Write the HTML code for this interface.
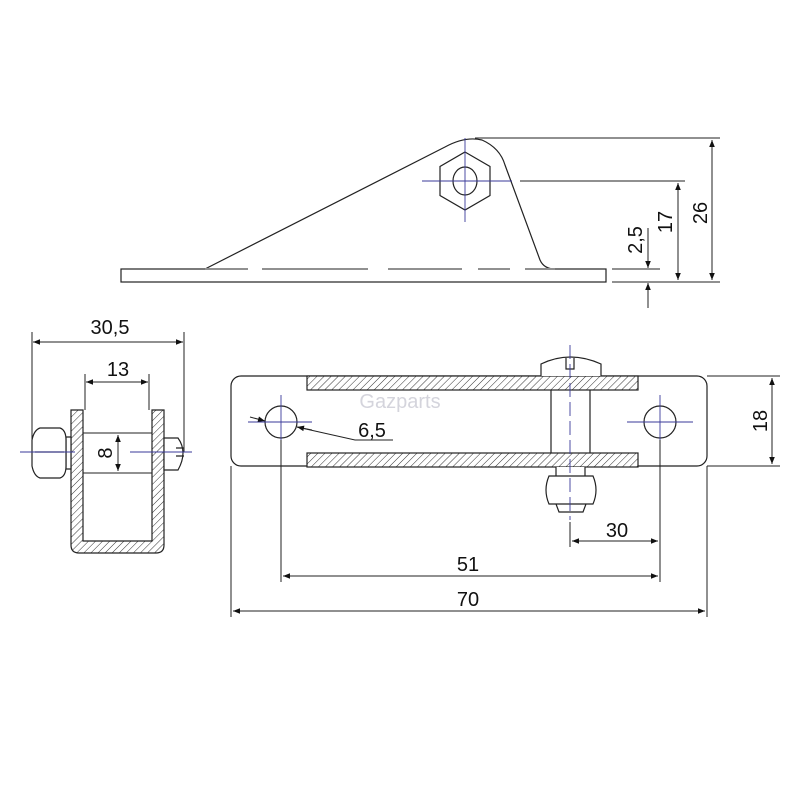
<!DOCTYPE html>
<html><head><meta charset="utf-8"><style>
html,body{margin:0;padding:0;background:#fff;width:800px;height:800px;overflow:hidden}
text{font-family:"Liberation Sans","DejaVu Sans",sans-serif;fill:#111}
</style></head><body>
<svg width="800" height="800" viewBox="0 0 800 800" xmlns="http://www.w3.org/2000/svg">
<defs>
<pattern id="h" width="5" height="5" patternUnits="userSpaceOnUse" patternTransform="rotate(45)">
<rect width="5" height="5" fill="#fff"/><line x1="0" y1="0" x2="0" y2="5" stroke="#333" stroke-width="1"/></pattern>
<marker id="a" viewBox="0 0 10 10" refX="10" refY="5" markerWidth="9" markerHeight="7" orient="auto-start-reverse" markerUnits="userSpaceOnUse"><path d="M0,1 L10,5 L0,9 z" fill="#111"/></marker>
</defs>
<g fill="none" stroke="#222" stroke-width="1.2">
<!-- TOP VIEW -->
<rect x="121" y="269" width="485" height="13" fill="#fff"/>
<path d="M205,269 L445,147 Q465,136 482,140 Q500,148 505,165 L540,260 Q544,269 555,269" fill="#fff"/>
<line x1="205" y1="269" x2="555" y2="269" stroke="#fff" stroke-width="2"/>
<path d="M205,269 H248 M262,269 H368 M388,269 H462 M478,269 H510 M525,269 H555" stroke-width="1.1"/>
<polygon points="465,152 490,166.5 490,195.5 465,210 440,195.5 440,166.5"/>
<ellipse cx="465" cy="181" rx="12" ry="14"/>
<g stroke="#3a3a9a" stroke-width="0.9"><line x1="422" y1="181" x2="512" y2="181"/><line x1="465" y1="138" x2="465" y2="222"/></g>
<g stroke-width="1"><line x1="475" y1="138" x2="720" y2="138"/><line x1="520" y1="181" x2="685" y2="181"/><line x1="612" y1="282" x2="720" y2="282"/><line x1="612" y1="269" x2="660" y2="269"/>
<line x1="712" y1="140" x2="712" y2="280" marker-start="url(#a)" marker-end="url(#a)"/>
<line x1="678" y1="183" x2="678" y2="280" marker-start="url(#a)" marker-end="url(#a)"/>
<line x1="648" y1="228" x2="648" y2="268" marker-end="url(#a)"/>
<line x1="648" y1="308" x2="648" y2="283" marker-end="url(#a)"/></g>
<!-- SIDE VIEW -->
<g stroke-width="1">
<line x1="33" y1="342" x2="183" y2="342" marker-start="url(#a)" marker-end="url(#a)"/>
<line x1="32" y1="332" x2="32" y2="452"/><line x1="184" y1="332" x2="184" y2="452"/>
<line x1="86" y1="382" x2="148" y2="382" marker-start="url(#a)" marker-end="url(#a)"/>
<line x1="85" y1="374" x2="85" y2="410"/><line x1="149" y1="374" x2="149" y2="410"/>
<line x1="83" y1="433" x2="152" y2="433"/><line x1="83" y1="473" x2="152" y2="473"/>
<line x1="118" y1="435" x2="118" y2="471" marker-start="url(#a)" marker-end="url(#a)"/></g>
<path d="M71,410 H83 V541 H152 V410 H164 V545 Q164,553 156,553 H79 Q71,553 71,545 Z" fill="url(#h)"/>
<path d="M66,437 H71 V469 H66 Z" fill="#fff"/>
<path d="M40,428 H60 Q66,430 66,440 V466 Q66,476 60,478 H40 Q34,476 32,466 V440 Q34,430 40,428 Z M35,452 H64" fill="#fff"/>
<path d="M164,438 H178 Q188,452 178,470 H164 Z M176,448 H184 M176,456 H184" fill="#fff"/>
<g stroke="#3a3a9a" stroke-width="0.9"><line x1="20" y1="452" x2="75" y2="452"/><line x1="130" y1="452" x2="192" y2="452"/></g>
<!-- FRONT VIEW -->
<rect x="231" y="376" width="476" height="90" rx="10" fill="#fff"/>
<rect x="307" y="376" width="331" height="14" fill="url(#h)"/>
<rect x="307" y="453" width="331" height="14" fill="url(#h)"/>
<path d="M551,390 V453 M590,390 V453"/>
<path d="M541,376 V364 Q570,350 601,364 V376" fill="#fff"/>
<path d="M566,358 V369 H574 V358"/>
<path d="M556,467 V476 H585 V467 M549,476 H593 Q599,490 593,504 H549 Q543,490 549,476 Z M556,504 L559,512 H583 L586,504" fill="#fff"/>
<circle cx="281" cy="422" r="16"/><circle cx="660" cy="422" r="16"/>
<g stroke="#3a3a9a" stroke-width="0.9"><line x1="248" y1="422" x2="312" y2="422"/><line x1="281" y1="395" x2="281" y2="440"/><line x1="627" y1="422" x2="693" y2="422"/><line x1="660" y1="395" x2="660" y2="440"/><line x1="570" y1="345" x2="570" y2="520" stroke-dasharray="14,5"/></g>
<g stroke-width="1">
<line x1="250" y1="417" x2="265" y2="421" marker-end="url(#a)"/>
<path d="M297,427 L355,440 H393"/><line x1="312" y1="430" x2="297" y2="427" marker-end="url(#a)"/>
<line x1="707" y1="376" x2="780" y2="376"/><line x1="707" y1="466" x2="780" y2="466"/>
<line x1="772" y1="378" x2="772" y2="464" marker-start="url(#a)" marker-end="url(#a)"/>
<line x1="231" y1="466" x2="231" y2="617"/><line x1="707" y1="466" x2="707" y2="617"/>
<line x1="281" y1="440" x2="281" y2="582"/><line x1="660" y1="440" x2="660" y2="582"/>
<line x1="570" y1="522" x2="570" y2="547"/>
<line x1="572" y1="541" x2="658" y2="541" marker-start="url(#a)" marker-end="url(#a)"/>
<line x1="283" y1="576" x2="658" y2="576" marker-start="url(#a)" marker-end="url(#a)"/>
<line x1="233" y1="611" x2="705" y2="611" marker-start="url(#a)" marker-end="url(#a)"/></g>
</g>
<g font-size="20">
<text x="642" y="240" transform="rotate(-90 642 240)" text-anchor="middle">2,5</text>
<text x="672" y="222" transform="rotate(-90 672 222)" text-anchor="middle">17</text>
<text x="707" y="213" transform="rotate(-90 707 213)" text-anchor="middle">26</text>
<text x="110" y="334" text-anchor="middle">30,5</text>
<text x="118" y="376" text-anchor="middle">13</text>
<text x="112" y="453" transform="rotate(-90 112 453)" text-anchor="middle">8</text>
<text x="372" y="437" text-anchor="middle">6,5</text>
<text x="767" y="421" transform="rotate(-90 767 421)" text-anchor="middle">18</text>
<text x="617" y="537" text-anchor="middle">30</text>
<text x="468" y="571" text-anchor="middle">51</text>
<text x="468" y="606" text-anchor="middle">70</text>
<text x="400" y="408" text-anchor="middle" style="fill:#d4d4dc">Gazparts</text>
</g>
</svg>
</body></html>
